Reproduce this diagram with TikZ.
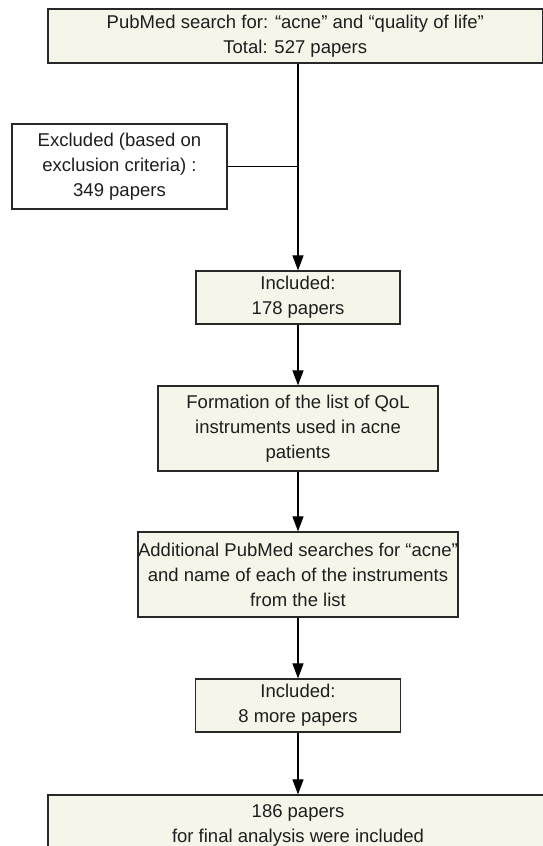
\documentclass[tikz,border=0pt]{standalone}
\usepackage{fontspec}
\setmainfont{Liberation Sans}
\usetikzlibrary{arrows.meta}
\definecolor{boxfill}{RGB}{245,245,233}
\definecolor{boxline}{RGB}{40,40,40}
\definecolor{txt}{RGB}{30,30,30}
\begin{document}
\begin{tikzpicture}[x=1pt,y=-1pt,
  box/.style={draw=boxline, line width=1.2pt, fill=boxfill, inner sep=0pt,
    align=center, text=txt, font=\fontsize{18.5}{25}\selectfont},
  conn/.style={line width=1.1pt, black},
  arr/.style={conn, -{Triangle[length=15pt,width=11pt]}}]
\useasboundingbox (0,0) rectangle (543,846);
\fill[white] (0,0) rectangle (543,846);

\node[box, minimum width=494.5pt, minimum height=54pt] (top) at (295.25,36)
  {PubMed search for: “acne” and “quality of life”\\Total: 527 papers};
\node[box, fill=white, minimum width=215pt, minimum height=85pt] (excl) at (119.5,166.5)
  {Excluded (based on\\exclusion criteria) :\\349 papers};
\node[box, minimum width=204pt, minimum height=53pt] (inc1) at (298,297.5)
  {Included:\\178 papers};
\node[box, minimum width=280pt, minimum height=85pt] (form) at (298,428.5)
  {Formation of the list of QoL\\instruments used in acne\\patients};
\node[box, minimum width=316pt, minimum height=85pt] (add) at (298,574.5)
  {Additional PubMed searches for “acne”\\and name of each of the instruments\\from the list};
\node[box, minimum width=205pt, minimum height=53pt] (inc2) at (298,705.5)
  {Included:\\8 more papers};
\node[box, minimum width=500pt, minimum height=60pt] (final) at (298,825)
  {186 papers\\for final analysis were included};

\draw[arr] (inc1.north |- top.south) -- (inc1.north);
\draw[conn] (excl.east) -- (excl.east -| inc1.north);
\draw[arr] (inc1.south) -- (form.north);
\draw[arr] (form.south) -- (add.north);
\draw[arr] (add.south) -- (inc2.north);
\draw[arr] (inc2.south) -- (final.north);
\end{tikzpicture}
\end{document}
